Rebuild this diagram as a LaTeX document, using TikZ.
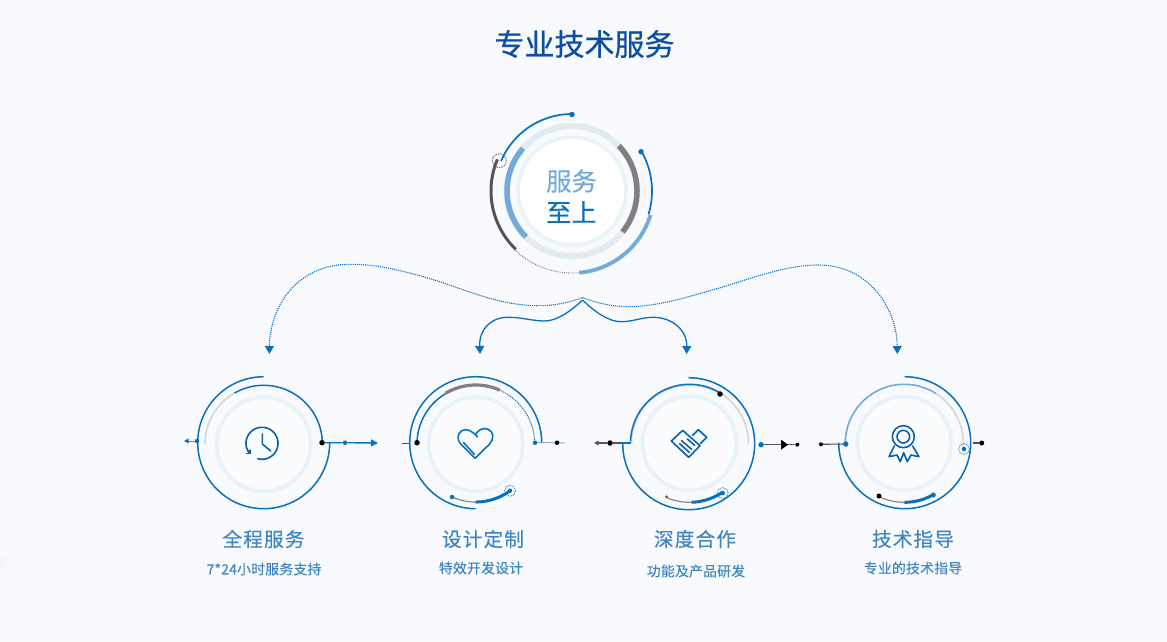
\documentclass[tikz,border=0pt]{standalone}
\usepackage{fontspec}
\setmainfont{Noto Sans CJK SC}
\newfontfamily\titlefont[FakeBold=0.7]{Noto Sans CJK SC}
\newfontfamily\centerfont[FakeBold=0.35]{Noto Sans CJK SC}
\newfontfamily\labelfont[LetterSpace=6,FakeBold=0.3]{Noto Sans CJK SC}
\newfontfamily\subfont[LetterSpace=2,FakeBold=0.2]{Noto Sans CJK SC}
\usetikzlibrary{arrows.meta}
\definecolor{bgc}{HTML}{F8FAFE}
\definecolor{inner}{HTML}{FBFCFE}
\definecolor{blu}{HTML}{0A70BE}
\definecolor{dblu}{HTML}{0A5FAE}
\definecolor{lblu}{HTML}{74AADB}
\definecolor{ringc}{HTML}{E9F4F7}
\definecolor{ringd}{HTML}{E1ECF0}
\definecolor{gry}{HTML}{808080}
\definecolor{dgry}{HTML}{555555}
\definecolor{lgry}{HTML}{D2D4D8}
\definecolor{ttl}{HTML}{0B4EA2}
\definecolor{lbl}{HTML}{3F85C2}
\newcommand{\myarc}[6][]{\draw[#1] plot[domain=#5:#6,samples=70,variable=\t] ({#2+#4*cos(\t)},{#3-#4*sin(\t)});}
\newcommand{\softring}[2]{\fill[inner] (#1,#2) circle[radius=49];\draw[ringc,line width=4pt] (#1,#2) circle[radius=47];}
\tikzset{
  thin blue/.style={blu,line width=1.5pt},
  heavy blue/.style={blu,line width=3pt},
  pale/.style={lgry,line width=1.5pt},
  bdot/.style={circle,fill=blu,inner sep=0pt,minimum size=5.5pt},
  kdot/.style={circle,fill=black,inner sep=0pt,minimum size=5.5pt},
  sdot/.style={circle,fill=black,inner sep=0pt,minimum size=4pt},
  halo/.style={circle,draw=blu,densely dotted,line width=.8pt,fill=none,inner sep=0pt,minimum size=11pt},
  icon/.style={dblu,line width=1.6pt,line join=round,line cap=round},
  dotcurve/.style={blu,line width=1.1pt,densely dotted,-{Triangle[length=8pt,width=9pt,sep=0pt]}},
  solidcurve/.style={blu,line width=1.3pt,-{Triangle[length=8pt,width=9pt]}},
  hd/.style={font=\labelfont\fontsize{19.6}{22}\selectfont,text=lbl,inner sep=0pt},
  sb/.style={font=\subfont\fontsize{13.8}{16}\selectfont,text=lbl,inner sep=0pt},
}
\begin{document}
\begin{tikzpicture}[x=1pt,y=-1pt]
\useasboundingbox (0,0) rectangle (1167,641);
\fill[bgc] (0,0) rectangle (1167,641);
\node[inner sep=0pt,text=ttl,font=\titlefont\fontsize{30}{34}\selectfont] (title) at (584.5,44) {专业技术服务};

% central emblem
\draw[ringd,line width=6pt] (572,191) circle[radius=65];
\fill[white] (572,191) circle[radius=54];
\draw[ringc,line width=3.5pt] (572,191) circle[radius=54];
\myarc[gry,line width=5.5pt]{572}{191}{65}{-39}{44}
\myarc[lblu,line width=5.5pt]{572}{191}{65}{139}{225}
\myarc[blu,line width=1.7pt]{572}{191}{77}{90}{157}
\myarc[dgry,line width=3pt]{572}{191}{81}{157}{226}
\myarc[gry,line width=.9pt,densely dotted]{572}{191}{82}{226}{275}
\myarc[lblu,line width=3.8pt]{572}{191}{82}{275}{343}
\myarc[blu,line width=1.7pt]{572}{191}{80}{-17}{30}
\node[bdot] (d1) at (572,114.5) {};
\node[bdot] (d2) at (641,151.7) {};
\node[circle,draw=dgry,densely dotted,line width=.9pt,inner sep=0pt,minimum size=14pt] (d3) at (499.3,160.7) {};
\node[inner sep=0pt,text=lblu,font=\centerfont\fontsize{25.2}{28}\selectfont] (c1) at (571.5,181) {服务};
\node[inner sep=0pt,text=blu,font=\centerfont\fontsize{25.2}{28}\selectfont] (c2) at (571.5,212) {至上};

% connectors from hub
\coordinate (hub) at (582.5,297.7);
\coordinate (hubs) at (582.5,300);
\coordinate (t1) at (269.3,354);
\coordinate (t2) at (480,354);
\coordinate (t3) at (686.7,354);
\coordinate (t4) at (897.3,354);
\draw[dotcurve] (hub) .. controls (568,303) and (552,306) .. (536.7,305.7) .. controls (495,305) and (460,287) .. (426.7,277.7) .. controls (400,270) and (375,264) .. (348.3,264.3) .. controls (298,265) and (270,305) .. (t1);
\draw[dotcurve] (hub) .. controls (597,303) and (612,306.7) .. (628.3,306.7) .. controls (660,306.5) and (690,296) .. (718.3,288.3) .. controls (750,279) and (785,265) .. (818.3,265) .. controls (870,265) and (897,310) .. (t4);
\draw[solidcurve] (hubs) .. controls (570,312) and (556,321.5) .. (543.3,321) .. controls (530,320.5) and (522,317.3) .. (508.3,317.3) .. controls (490,317.3) and (479,330) .. (t2);
\draw[solidcurve] (hubs) .. controls (595,312) and (609,322) .. (621.7,321.7) .. controls (634,321.5) and (641,317.3) .. (653.3,317.3) .. controls (672,317.3) and (687,330) .. (t3);

% circle 1
\softring{263.7}{444.3}
\myarc[thin blue]{263.7}{442.7}{66}{90}{360}
\myarc[thin blue]{263.7}{444}{58.7}{0}{120}
\myarc[pale]{263.7}{444}{58.7}{120}{180}
\node[kdot] (a1) at (322,442.7) {};
\node[bdot,minimum size=4.5pt] (a2) at (345,442.7) {};
\coordinate (a3) at (378,443);
\draw[blu,line width=1.4pt,-{Triangle[length=7pt,width=7pt]}] (a1) -- (a2) -- (a3);
\node[bdot,minimum size=4.5pt] (a4) at (197,441) {};
\coordinate (a5) at (184,441);
\coordinate (a6) at (189,441);
\draw[gry,line width=1pt] (a4) -- (a6);
\draw[blu,line width=1pt,-{Triangle[length=4.5pt,width=4.5pt]}] (a6) -- (a5);

% circle 2
\softring{475.7}{444.3}
\myarc[thin blue]{475.7}{442.7}{66}{0}{270}
\myarc[thin blue]{475.7}{444}{58.7}{121}{180}
\myarc[gry,line width=3.2pt]{475.7}{444}{59}{66}{121}
\myarc[blu,line width=1.1pt,densely dotted]{475.7}{444}{59}{0}{66}
\node[kdot] (b1) at (417,442.7) {};
\node[bdot,minimum size=4.5pt] (b2) at (535,442.7) {};
\node[kdot,minimum size=4.5pt] (b3) at (557,442.7) {};
\coordinate (b4) at (564.3,443);
\draw[blu,line width=1pt,densely dotted] (b2) -- (b3) -- (b4);
\coordinate (b5) at (401.7,443.3);
\coordinate (b6) at (409.7,443.3);
\draw[dgry,line width=1pt] (b5) -- (b6);
\myarc[gry,line width=1.1pt]{475.7}{444}{58}{246}{270}
\myarc[heavy blue]{475.7}{444}{58}{270}{306}
\node[bdot,minimum size=4.5pt] (b7) at (452,497) {};
\node[bdot,minimum size=4.5pt] (b8) at (510,490.7) {};
\node[halo] (b9) at (510,490.7) {};

% circle 3
\softring{689.5}{443.3}
\myarc[thin blue]{688.7}{443.7}{66}{-180}{90}
\myarc[lgry,line width=1.5pt]{689.5}{443.3}{58}{58}{180}
\myarc[thin blue]{689.5}{443.3}{59}{58}{178}
\myarc[pale]{689.5}{443.3}{59}{0}{58}
\node[kdot] (k1) at (720,394) {};
\coordinate (k2) at (622.3,443);
\coordinate (k3) at (630.5,443);
\draw[blu,line width=1.4pt] (k2) -- (k3);
\node[kdot] (k4) at (610,443) {};
\coordinate (k5) at (594,443);
\draw[dgry,line width=1.1pt,-{Triangle[length=4.5pt,width=4.5pt]}] (k2) -- (k4) -- (k5);
\node[bdot] (k6) at (761,444.7) {};
\node[sdot] (k7) at (797.3,444.7) {};
\draw[dgry,line width=1.1pt] (k6) -- (k7);
\fill[black] (781,439.7) -- (788,444.7) -- (781,449.7) -- cycle;
\myarc[gry,line width=1.1pt]{689.5}{443.3}{59}{247}{272}
\myarc[heavy blue]{689.5}{443.3}{59}{272}{303}
\node[sdot,fill=dgry,minimum size=3pt] (k9) at (666.7,496.7) {};
\node[bdot,minimum size=4.5pt] (k10) at (722.7,493) {};
\node[halo] (k11) at (722.7,493) {};

% circle 4
\softring{904.3}{443.3}
\myarc[thin blue]{904.7}{442.7}{66}{-180}{90}
\myarc[lblu,line width=1.6pt]{904.3}{443.3}{59}{57}{180}
\myarc[pale]{904.3}{443.3}{59}{-5}{57}
\node[bdot] (m1) at (845.7,444) {};
\node[sdot] (m2) at (821,444.3) {};
\draw[dgry,line width=1.1pt] (m2) -- (m1);
\node[bdot,minimum size=4.5pt] (m3) at (964,449) {};
\node[halo] (m4) at (964,449) {};
\coordinate (m5) at (973,443);
\node[kdot,minimum size=5pt] (m6) at (981.7,443) {};
\draw[dgry,line width=1.1pt] (m5) -- (m6);
\myarc[gry,line width=1.1pt]{904.3}{443.3}{59}{244}{270}
\myarc[heavy blue]{904.3}{443.3}{59}{270}{299}
\node[kdot,minimum size=5pt] (m7) at (879,496) {};
\node[bdot,minimum size=5pt] (m8) at (933.3,495) {};

% labels
\node[hd] (l1) at (263.5,539) {全程服务};
\node[hd] (l2) at (483,539) {设计定制};
\node[hd] (l3) at (695,539) {深度合作};
\node[hd] (l4) at (913,539) {技术指导};
\node[sb] (s1) at (264,569) {7*24小时服务支持};
\node[sb] (s2) at (481,568) {特效开发设计};
\node[sb] (s3) at (696,571) {功能及产品研发};
\node[sb] (s4) at (913,568) {专业的技术指导};
\node[inner sep=0pt,text=black!6,font=\fontsize{13}{15}\selectfont] (e) at (2,563) {e};

% icons
\myarc[icon]{262}{443.3}{16}{-106}{218}
\begin{scope}[shift={(170,365)},scale=1/3]
\draw[icon] (277,207) -- (277,237) -- (302,258);
\draw[icon] (240,255) -- (240,266) -- (230,266);
\end{scope}
\begin{scope}[shift={(395,365)},scale=1/3]
\draw[icon,blu] (248,216) .. controls (235,200) and (215,188) .. (200,197) .. controls (186,206) and (186,225) .. (197,237) -- (240,280) -- (284,237) .. controls (298,222) and (296,200) .. (280,193) .. controls (265,186) and (250,195) .. (243,206);
\draw[icon,blu] (205,232) -- (238,268);
\end{scope}
\begin{scope}[shift={(585,365)},scale=1/3]
\draw[icon] (293,196) -- (345,242) -- (311,277) -- (259,228) -- cycle;
\draw[icon] (323,211) -- (340,194) -- (365,217) -- (347,235);
\draw[icon] (290,227) -- (320,253);
\draw[icon] (284,236) -- (313,262);
\draw[icon] (307,222) -- (329,241);
\end{scope}
\begin{scope}[shift={(815,365)},scale=1/3]
\draw[icon] (265,215) circle[radius=33];
\draw[icon] (265,215) circle[radius=19];
\draw[icon] (238,243) -- (222,275) -- (246,270) -- (256,290) -- (266,263) -- (277,290) -- (288,270) -- (312,275) -- (293,243);
\end{scope}
\end{tikzpicture}
\end{document}
